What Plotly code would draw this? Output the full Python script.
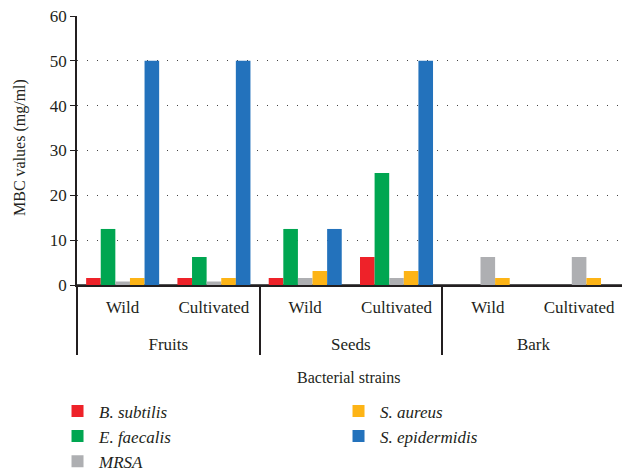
import plotly.graph_objects as go

parts = ["Fruits", "Fruits", "Seeds", "Seeds", "Bark", "Bark"]
origins = ["Wild", "Cultivated", "Wild", "Cultivated", "Wild", "Cultivated"]

series_names = ["B. subtilis", "E. faecalis", "MRSA", "S. aureus", "S. epidermidis"]
b_subtilis = [1.56, 1.56, 1.56, 6.25, 0, 0]
e_faecalis = [12.5, 6.25, 12.5, 25, 0, 0]
mrsa = [0.78, 0.78, 1.56, 1.56, 6.25, 6.25]
s_aureus = [1.56, 1.56, 3.12, 3.12, 1.56, 1.56]
s_epidermidis = [50, 50, 12.5, 50, 0, 0]
series_values = [b_subtilis, e_faecalis, mrsa, s_aureus, s_epidermidis]
colors = ["#EE2229", "#00A651", "#AEAFB2", "#FDB416", "#2372BC"]
legend_ranks = [1, 3, 5, 2, 4]

y_ticks = [0, 10, 20, 30, 40, 50, 60]

FONT = "Liberation Serif"

# leading line break pushes the group label one line lower (as in the reference)
part_labels = ["<br>" + p for p in parts]

fig = go.Figure()
for name, vals, col, rk in zip(series_names, series_values, colors, legend_ranks):
    fig.add_trace(go.Bar(
        x=[part_labels, origins], y=vals, name=name,
        marker=dict(color=col, line=dict(width=0)),
        legendrank=rk,
    ))

fig.update_layout(
    width=622, height=472,
    margin=dict(l=77, r=0, t=16, b=187, autoexpand=False),
    paper_bgcolor="white", plot_bgcolor="white",
    font=dict(family=FONT, size=15, color="#231F20"),
    barmode="group", bargap=0.2, bargroupgap=0,
    showlegend=True,
    legend=dict(
        orientation="h", x=-0.0385, xanchor="left", y=-0.403, yanchor="top",
        entrywidth=233, entrywidthmode="pixels",
        font=dict(family=FONT, size=17, style="italic"),
        itemwidth=33, tracegroupgap=0,
    ),
    xaxis=dict(
        type="multicategory", automargin=False,
        showline=True, linecolor="#231F20", linewidth=1.5,
        showgrid=False, ticks="",
        showdividers=True, dividercolor="#231F20", dividerwidth=1.5,
        tickfont=dict(family=FONT, size=17),
        ticklabelstandoff=6,
        range=[-0.5, 5.47],
    ),
    yaxis=dict(
        range=[0, 60], tickvals=y_ticks, automargin=False,
        showline=True, linecolor="#231F20", linewidth=1.5,
        ticks="outside", ticklen=5, tickcolor="#231F20",
        showgrid=True, gridcolor="#444", griddash="1px,9px", gridwidth=1,
        zeroline=True, zerolinecolor="#555", zerolinewidth=1.5,
        tickfont=dict(family=FONT, size=17),
    ),
    annotations=[
        dict(
            text="Bacterial strains", xref="paper", yref="paper",
            x=(349 - 77) / 545, y=(285 - 377) / 269, xanchor="center", yanchor="middle",
            showarrow=False, font=dict(family=FONT, size=16),
        ),
        dict(
            text="MBC values (mg/ml)", xref="paper", yref="paper",
            x=(20 - 77) / 545, y=(285 - 148) / 269, xanchor="center", yanchor="middle",
            textangle=-90, showarrow=False, font=dict(family=FONT, size=16),
        ),
    ],
)

fig.write_html(
    "out.html",
    config={"displayModeBar": False},
    post_script="document.body.style.margin='0';document.body.style.overflow='hidden';",
)
